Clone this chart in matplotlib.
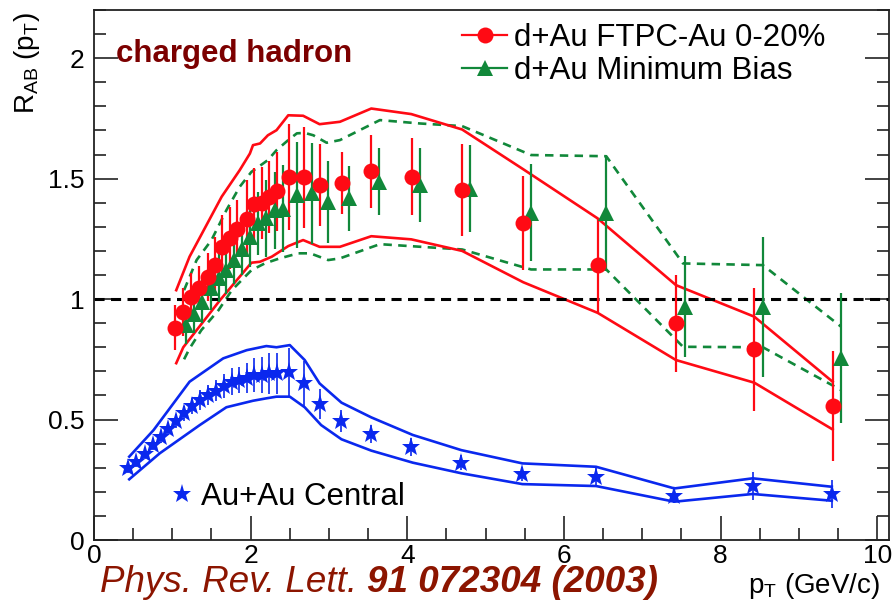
import matplotlib
matplotlib.use("Agg")
from matplotlib import pyplot as plt
from matplotlib.lines import Line2D
from matplotlib.ticker import MultipleLocator

plt.rcParams['font.family'] = ['Liberation Sans', 'DejaVu Sans']
plt.rcParams['mathtext.fontset'] = 'custom'
plt.rcParams['mathtext.rm'] = 'Liberation Sans'
plt.rcParams['mathtext.it'] = 'Liberation Sans:italic'

# d+Au FTPC-Au 0-20% (red circles)
ftpc_pt = [1.04, 1.14, 1.24, 1.34, 1.45, 1.55, 1.64, 1.73, 1.83, 1.95, 2.04, 2.15, 2.24, 2.34,
           2.49, 2.68, 2.89, 3.16, 3.54, 4.06, 4.70, 5.48, 6.43, 7.43, 8.43, 9.44]
ftpc_r = [0.881, 0.945, 1.007, 1.047, 1.093, 1.142, 1.217, 1.254, 1.293, 1.334, 1.394, 1.40, 1.425, 1.447,
          1.505, 1.505, 1.472, 1.482, 1.53, 1.508, 1.452, 1.314, 1.141, 0.899, 0.791, 0.556]
ftpc_err = [0.094, 0.10, 0.10, 0.09, 0.10, 0.115, 0.13, 0.13, 0.12, 0.16, 0.15, 0.15, 0.15, 0.165,
            0.22, 0.21, 0.17, 0.13, 0.15, 0.16, 0.19, 0.195, 0.196, 0.20, 0.257, 0.23]
ftpc_hi_pt = [1.05, 1.22, 1.63, 1.86, 1.99, 2.03, 2.12, 2.22, 2.33, 2.48, 2.67, 2.88, 3.14, 3.54,
              4.05, 4.70, 5.48, 6.43, 7.43, 8.43, 9.43]
ftpc_hi = [1.037, 1.176, 1.425, 1.535, 1.604, 1.639, 1.646, 1.68, 1.701, 1.763, 1.761, 1.726, 1.736, 1.791,
           1.768, 1.704, 1.539, 1.335, 1.058, 0.927, 0.657]
ftpc_lo_pt = [1.05, 1.14, 1.61, 2.01, 2.12, 2.27, 2.48, 2.67, 2.88, 3.14, 3.54, 4.05, 4.70, 5.48,
              6.43, 7.43, 8.43, 9.43]
ftpc_lo = [0.734, 0.80, 0.996, 1.151, 1.155, 1.176, 1.22, 1.245, 1.217, 1.217, 1.261, 1.248, 1.20, 1.07,
           0.943, 0.747, 0.653, 0.459]

# d+Au Minimum Bias (green triangles)
mb_pt = [1.18, 1.28, 1.38, 1.49, 1.59, 1.69, 1.79, 1.89, 1.99, 2.10, 2.20, 2.31, 2.41,
         2.59, 2.78, 2.99, 3.26, 3.64, 4.16, 4.80, 5.58, 6.54, 7.54, 8.54, 9.54]
mb_r = [0.892, 0.94, 0.989, 1.044, 1.086, 1.12, 1.162, 1.21, 1.259, 1.314, 1.335, 1.369, 1.376,
        1.432, 1.439, 1.404, 1.418, 1.487, 1.473, 1.459, 1.359, 1.356, 0.968, 0.968, 0.754]
mb_err = [0.08, 0.08, 0.09, 0.09, 0.10, 0.10, 0.10, 0.11, 0.125, 0.13, 0.16, 0.16, 0.18,
          0.22, 0.21, 0.17, 0.135, 0.14, 0.155, 0.18, 0.20, 0.24, 0.21, 0.29, 0.27]
mb_hi_pt = [1.15, 1.31, 1.50, 1.69, 1.86, 2.01, 2.22, 2.33, 2.48, 2.59, 2.69, 2.80, 2.97, 3.14,
            3.65, 4.16, 4.70, 5.58, 6.54, 7.52, 8.54, 9.54]
mb_hi = [1.037, 1.162, 1.245, 1.369, 1.466, 1.528, 1.577, 1.618, 1.66, 1.688, 1.69, 1.68, 1.649, 1.66,
         1.743, 1.729, 1.718, 1.598, 1.593, 1.148, 1.141, 0.885]
mb_lo_pt = [1.15, 1.22, 1.37, 1.59, 1.76, 2.01, 2.18, 2.37, 2.61, 2.76, 2.99, 3.14, 3.65, 4.70,
            5.58, 6.54, 7.52, 8.54, 9.54]
mb_lo = [0.75, 0.795, 0.871, 0.954, 1.037, 1.12, 1.148, 1.169, 1.19, 1.19, 1.162, 1.169, 1.228, 1.206,
         1.123, 1.123, 0.802, 0.80, 0.622]

# Au+Au Central (blue stars)
auau_pt = [0.44, 0.54, 0.65, 0.75, 0.85, 0.95, 1.05, 1.15, 1.25, 1.35, 1.46, 1.56, 1.66, 1.76, 1.85, 1.95,
           2.04, 2.14, 2.24, 2.34, 2.49, 2.68, 2.88, 3.15, 3.54, 4.05, 4.69, 5.47, 6.41, 7.41, 8.41, 9.42]
auau_r = [0.297, 0.325, 0.357, 0.394, 0.426, 0.459, 0.495, 0.526, 0.556, 0.581, 0.602, 0.62, 0.639, 0.657,
          0.664, 0.671, 0.685, 0.685, 0.692, 0.692, 0.698, 0.65, 0.564, 0.495, 0.44, 0.385, 0.321, 0.274,
          0.263, 0.183, 0.224, 0.191]
auau_err = [0.02, 0.02, 0.02, 0.02, 0.025, 0.025, 0.03, 0.03, 0.035, 0.04, 0.04, 0.045, 0.05, 0.055,
            0.055, 0.062, 0.07, 0.076, 0.085, 0.085, 0.10, 0.093, 0.062, 0.045, 0.038, 0.037, 0.031, 0.031,
            0.041, 0.031, 0.057, 0.06]
auau_hi_pt = [0.45, 0.76, 1.22, 1.65, 1.95, 2.20, 2.33, 2.50, 2.69, 2.88, 3.16, 3.54, 4.07, 4.69, 5.47,
              6.41, 7.41, 8.41, 9.42]
auau_hi = [0.346, 0.456, 0.657, 0.754, 0.788, 0.805, 0.80, 0.809, 0.747, 0.65, 0.57, 0.509, 0.436, 0.373,
           0.318, 0.304, 0.214, 0.256, 0.221]
auau_lo_pt = [0.45, 0.84, 1.35, 1.69, 2.03, 2.20, 2.33, 2.50, 2.69, 2.90, 3.16, 3.54, 4.07, 4.69, 5.47,
              6.41, 7.41, 8.41, 9.42]
auau_lo = [0.252, 0.36, 0.477, 0.551, 0.578, 0.588, 0.595, 0.595, 0.551, 0.477, 0.418, 0.371, 0.321, 0.277,
           0.232, 0.224, 0.159, 0.191, 0.163]

red = '#ff0a14'
green = '#11883a'
blue = '#0a28ee'

fig = plt.figure(figsize=(8.95, 6.04), dpi=100)
ax = fig.add_axes([94/895, 64/604, 795/895, 530/604])

# bands
ax.plot(mb_hi_pt, mb_hi, color=green, lw=1.9, dashes=(3.2, 2.4))
ax.plot(mb_lo_pt, mb_lo, color=green, lw=1.9, dashes=(3.2, 2.4))
ax.plot(ftpc_hi_pt, ftpc_hi, color=red, lw=1.9)
ax.plot(ftpc_lo_pt, ftpc_lo, color=red, lw=1.9)
ax.plot(auau_hi_pt, auau_hi, color=blue, lw=1.9)
ax.plot(auau_lo_pt, auau_lo, color=blue, lw=1.9)

ax.axhline(1.0, color='k', lw=2.2, dashes=(3.3, 2.1))

ax.errorbar(mb_pt, mb_r, yerr=mb_err, fmt='^', color=green, ms=11, elinewidth=1.6, capsize=0, mew=0)
ax.errorbar(ftpc_pt, ftpc_r, yerr=ftpc_err, fmt='o', color=red, ms=11.5, elinewidth=1.6, capsize=0, mew=0)
ax.errorbar(auau_pt, auau_r, yerr=auau_err, fmt='*', color=blue, ms=14, elinewidth=1.2, capsize=0, mew=0)

ax.set_xlim(0, 10.15)
ax.set_ylim(0, 2.2)
ax.xaxis.set_major_locator(MultipleLocator(2))
ax.xaxis.set_minor_locator(MultipleLocator(0.5))
ax.yaxis.set_major_locator(MultipleLocator(0.5))
ax.yaxis.set_minor_locator(MultipleLocator(0.1))
ax.yaxis.set_major_formatter(matplotlib.ticker.FuncFormatter(lambda v, p: f"{v:g}"))
ax.tick_params(which='both', direction='in', right=True, top=False, width=1.2, colors='#222222')
ax.tick_params(which='major', length=17, labelsize=19, labelcolor='k')
ax.tick_params(which='minor', length=8.5)
ax.tick_params(axis='x', which='major', pad=3)
ax.tick_params(axis='y', which='major', pad=7)
for s in ax.spines.values():
    s.set_linewidth(1.3)
    s.set_color('#222222')

ax.set_xlabel(r"p$_{\mathrm{T}}$ (GeV/c)", fontsize=20, loc='right')
ax.xaxis.set_label_coords(0.989, -0.058)
fig.text(12/895, 1 - 12/604, r"R$_{\mathrm{AB}}$ (p$_{\mathrm{T}}$)", fontsize=20, rotation=90,
         ha='left', va='top')

ax.text(0.028, 0.902, "charged hadron", transform=ax.transAxes, fontsize=22.5, fontweight='bold',
        color='#7c0000', va='baseline', ha='left')

leg1 = ax.legend(handles=[Line2D([], [], color=red, marker='o', ms=11.5, mew=0, lw=1.6),
                          Line2D([], [], color=green, marker='^', ms=11, mew=0, lw=1.6)],
                 labels=["d+Au FTPC-Au 0-20%", "d+Au Minimum Bias"],
                 loc='upper left', bbox_to_anchor=(0.463, 0.975), frameon=False, fontsize=22.5,
                 handlelength=1.45, handletextpad=0.2, labelspacing=0.1, borderpad=0, borderaxespad=0)
ax.add_artist(leg1)
ax.legend(handles=[Line2D([], [], color=blue, marker='*', ms=14, mew=0, lw=0)],
          labels=["Au+Au Central"], loc='center left', bbox_to_anchor=(0.0956, 0.081), frameon=False,
          fontsize=22.5, handlelength=0.75, handletextpad=0.25, borderpad=0, borderaxespad=0)

t1 = fig.text(100/895, 12/604, "Phys. Rev. Lett. ", fontsize=26.5, style='italic', color='#8c1500',
              va='baseline', ha='left')
ax.annotate("91 072304 (2003)", xy=(1, 0), xycoords=t1, fontsize=26.5, style='italic', fontweight='bold',
            color='#8c1500', va='bottom', ha='left', annotation_clip=False)

plt.savefig("out.png", dpi=100)
plt.close()
